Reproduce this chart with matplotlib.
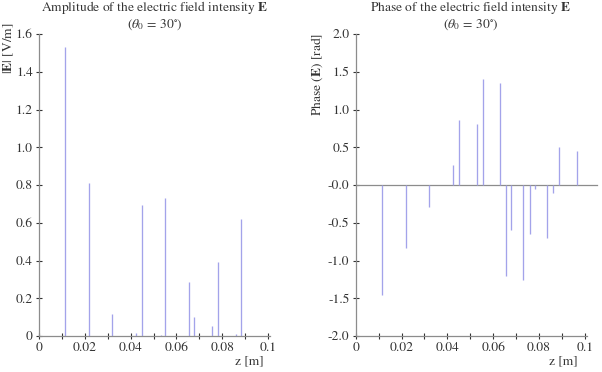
import matplotlib as mpl
mpl.use('Agg')
import matplotlib.pyplot as plt
from matplotlib.ticker import MultipleLocator, FixedLocator, FixedFormatter

plt.rcParams['font.family'] = ['STIXGeneral', 'DejaVu Serif']
plt.rcParams['mathtext.fontset'] = 'stix'

# amplitude |E| [V/m] along z [m]
z_amp = [0.0113, 0.0217, 0.0320, 0.0423, 0.0448, 0.0531, 0.0552,
         0.0654, 0.0677, 0.0757, 0.0783, 0.0861, 0.0884]
amp = [1.53, 0.812, 0.117, 0.018, 0.694, 0.006, 0.730,
       0.288, 0.102, 0.053, 0.392, 0.010, 0.621]

# phase of E [rad] along z [m]
z_ph = [0.0114, 0.0219, 0.0322, 0.0425, 0.0451, 0.0528, 0.0554, 0.0632,
        0.0655, 0.0680, 0.0732, 0.0759, 0.0783, 0.0836, 0.0861, 0.0886, 0.0967]
phase = [-1.457, -0.83, -0.287, 0.265, 0.861, 0.803, 1.404, 1.355,
         -1.20, -0.596, -1.258, -0.649, -0.053, -0.706, -0.11, 0.499, 0.446]

x_ticks = [0, 0.02, 0.04, 0.06, 0.08, 0.1]
x_labels = ['0', '0.02', '0.04', '0.06', '0.08', '0.1']
amp_ticks = [0, 0.2, 0.4, 0.6, 0.8, 1.0, 1.2, 1.4, 1.6]
amp_labels = ['0', '0.2', '0.4', '0.6', '0.8', '1.0', '1.2', '1.4', '1.6']
ph_ticks = [-2.0, -1.5, -1.0, -0.5, 0.0, 0.5, 1.0, 1.5, 2.0]
ph_labels = ['-2.0', '-1.5', '-1.0', '-0.5', '-0.0', '0.5', '1.0', '1.5', '2.0']

bar_col = '#a3a3ea'
axis_col = '#8c8c8c'
fs = 9.7

W, H = 602, 372
fig = plt.figure(figsize=(W / 100, H / 100), dpi=100)

ax1 = fig.add_axes([39 / W, 36 / H, 231.3 / W, 302 / H])
ax2 = fig.add_axes([355.7 / W, 36 / H, 231.3 / W, 302 / H])


def style(ax, yticks, ylabels):
    for s in ('top', 'right'):
        ax.spines[s].set_visible(False)
    for s in ('left', 'bottom'):
        ax.spines[s].set_color(axis_col)
        ax.spines[s].set_linewidth(0.9)
    ax.set_xlim(0, 0.101)
    ax.xaxis.set_major_locator(FixedLocator(x_ticks))
    ax.xaxis.set_major_formatter(FixedFormatter(x_labels))
    ax.xaxis.set_minor_locator(MultipleLocator(0.01))
    ax.yaxis.set_major_locator(FixedLocator(yticks))
    ax.yaxis.set_major_formatter(FixedFormatter(ylabels))
    ax.tick_params(which='both', direction='inout', length=5, width=0.8,
                   color='#333333', labelsize=fs, labelcolor='#333333', pad=2)
    ax.tick_params(axis='x', pad=2)
    ax.set_facecolor('none')


ax1.vlines(z_amp, 0, amp, color=bar_col, lw=0.95)
ax1.set_ylim(0, 1.6)
style(ax1, amp_ticks, amp_labels)

ax2.plot([0, 0.1054], [0, 0], color=axis_col, lw=0.9, clip_on=False)
ax2.vlines(z_ph, 0, phase, color=bar_col, lw=0.95)
ax2.set_ylim(-2, 2)
style(ax2, ph_ticks, ph_labels)

tc = '#333333'
fig.text(155 / W, 1 - 8 / H, r'Amplitude of the electric field intensity $\mathbf{E}$',
         ha='center', va='center', fontsize=fs, color=tc)
fig.text(155 / W, 1 - 25 / H, r'($\theta_0$ = 30$^{\circ}$)',
         ha='center', va='center', fontsize=fs, color=tc)
fig.text(471 / W, 1 - 8 / H, r'Phase of the electric field intensity $\mathbf{E}$',
         ha='center', va='center', fontsize=fs, color=tc)
fig.text(471 / W, 1 - 25 / H, r'($\theta_0$ = 30$^{\circ}$)',
         ha='center', va='center', fontsize=fs, color=tc)

fig.text(9 / W, 1 - 22 / H, r'$|\mathbf{E}|$ [V/m]', rotation=90,
         ha='center', va='top', fontsize=fs, color=tc)
fig.text(317 / W, 1 - 33 / H, r'Phase ($\mathbf{E}$) [rad]', rotation=90,
         ha='center', va='top', fontsize=fs, color=tc)

fig.text(249 / W, 1 - 361 / H, 'z [m]', ha='center', va='center', fontsize=fs, color=tc)
fig.text(563 / W, 1 - 361 / H, 'z [m]', ha='center', va='center', fontsize=fs, color=tc)

plt.savefig('out.png', dpi=100)
plt.close()
